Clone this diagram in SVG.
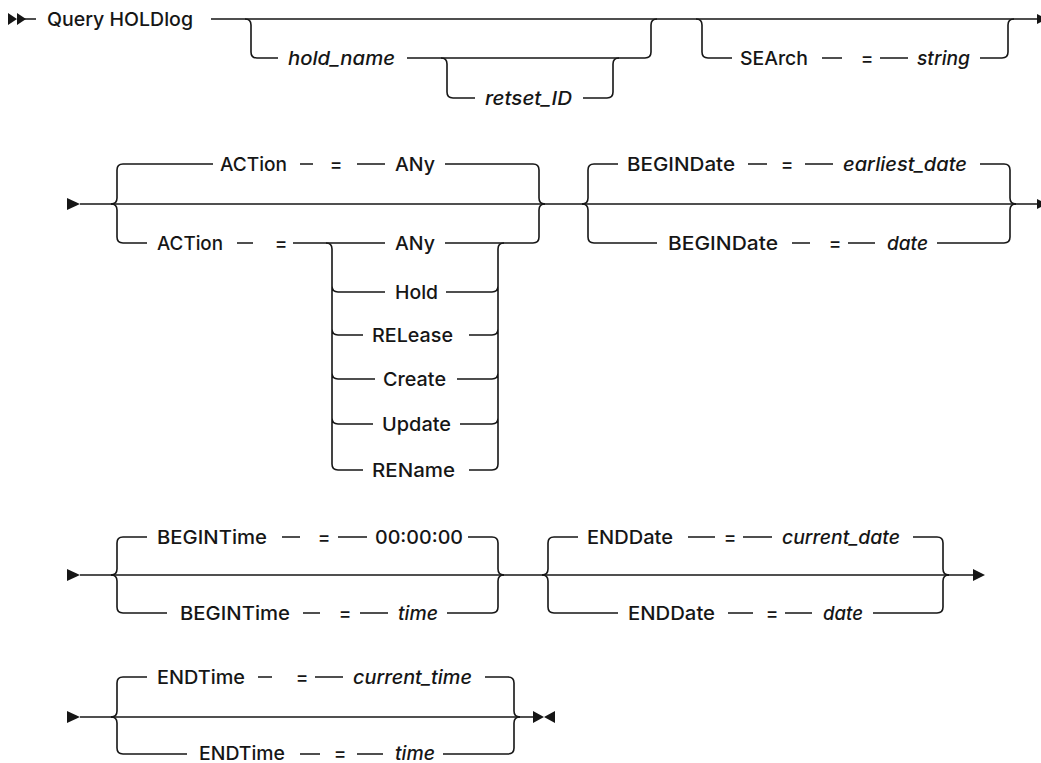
<svg xmlns="http://www.w3.org/2000/svg" width="1041" height="763" viewBox="0 0 1041 763">
<style>
.l{fill:none;stroke:#161616;stroke-width:1.6}
.m{fill:#161616;stroke:none}
.t{font-family:Inter,"Noto Sans","Liberation Sans",Arial,sans-serif;font-size:19px;font-weight:500;fill:#161616}
.i{font-style:italic}
.c{text-anchor:middle}
</style>
<rect width="1041" height="763" fill="#ffffff"/>
<g id="connectors">
<path class="m" d="M8,13 L17,19 L8,25 Z M17,13 L26,19 L17,25 Z"/>
<path class="m" d="M1037,14 L1047,19 L1037,24 Z"/>
<path class="m" d="M67,198 L80,204 L67,210 Z"/>
<path class="m" d="M1037,199 L1047,204 L1037,209 Z"/>
<path class="m" d="M67,569 L80,575 L67,581 Z"/>
<path class="m" d="M973,569 L985,575 L973,581 Z"/>
<path class="m" d="M67,711 L80,717 L67,723 Z"/>
<path class="m" d="M533,711 L544,717 L533,723 Z M555,711 L544,717 L555,723 Z"/>
<path class="l" d="M24,19 H36 M211,19 H1038"/>
<path class="l" d="M245,19 Q251,19 251,25 V52 Q251,58 257,58 H278 M407,58 H645 Q651,58 651,52 V25 Q651,19 657,19"/>
<path class="l" d="M441,58 Q447,58 447,64 V92 Q447,98 453,98 H475 M583,98 H607 Q613,98 613,92 V64 Q613,58 619,58"/>
<path class="l" d="M696,19 Q702,19 702,25 V52 Q702,58 708,58 H732 M822,58 H842 M880,58 H908 M980,58 H1002 Q1008,58 1008,52 V25 Q1008,19 1014,19"/>
<path class="l" d="M80,204 H1038"/>
<path class="l" d="M111,204 Q117,204 117,198 V170 Q117,164 123,164 H213 M300,164 H313 M357,164 H385 M445,164 H533 Q539,164 539,170 V198 Q539,204 545,204"/>
<path class="l" d="M111,204 Q117,204 117,210 V237 Q117,243 123,243 H147 M237,243 H253 M293,243 H385 M445,243 H533 Q539,243 539,237 V210 Q539,204 545,204"/>
<path class="l" d="M326,243 Q332,243 332,249 V464 Q332,470 338,470 H363 M332,286 Q332,292 338,292 H385 M332,329 Q332,335 338,335 H363 M332,373 Q332,379 338,379 H375 M332,418 Q332,424 338,424 H373"/>
<path class="l" d="M504,243 Q498,243 498,249 V464 Q498,470 492,470 H469 M498,286 Q498,292 492,292 H446 M498,329 Q498,335 492,335 H469 M498,373 Q498,379 492,379 H457 M498,418 Q498,424 492,424 H460"/>
<path class="l" d="M582,204 Q588,204 588,198 V170 Q588,164 594,164 H618 M748,164 H767 M805,164 H833 M980,164 H1004 Q1010,164 1010,170 V198 Q1010,204 1016,204"/>
<path class="l" d="M582,204 Q588,204 588,210 V237 Q588,243 594,243 H657 M792,243 H810 M848,243 H875 M937,243 H1004 Q1010,243 1010,237 V210 Q1010,204 1016,204"/>
<path class="l" d="M80,575 H974"/>
<path class="l" d="M111,575 Q117,575 117,569 V543 Q117,537 123,537 H147 M282,537 H300 M338,537 H367 M468,537 H492 Q498,537 498,543 V569 Q498,575 504,575"/>
<path class="l" d="M111,575 Q117,575 117,581 V607 Q117,613 123,613 H167 M303,613 H320 M360,613 H388 M447,613 H492 Q498,613 498,607 V581 Q498,575 504,575"/>
<path class="l" d="M542,575 Q548,575 548,569 V543 Q548,537 554,537 H578 M688,537 H715 M743,537 H772 M913,537 H937 Q943,537 943,543 V569 Q943,575 949,575"/>
<path class="l" d="M542,575 Q548,575 548,581 V607 Q548,613 554,613 H618 M728,613 H753 M785,613 H812 M873,613 H937 Q943,613 943,607 V581 Q943,575 949,575"/>
<path class="l" d="M80,717 H534"/>
<path class="l" d="M111,717 Q117,717 117,711 V683 Q117,677 123,677 H147 M258,677 H272 M315,677 H343 M485,677 H508 Q514,677 514,683 V711 Q514,717 520,717"/>
<path class="l" d="M111,717 Q117,717 117,723 V748 Q117,754 123,754 H187 M300,754 H320 M357,754 H383 M443,754 H508 Q514,754 514,748 V723 Q514,717 520,717"/>
</g>
<g id="n-query"><text class="t" x="47" y="26" textLength="146" lengthAdjust="spacingAndGlyphs">Query HOLDlog</text></g>
<g id="n-hold_name"><text class="t i" x="288" y="65" textLength="107" lengthAdjust="spacingAndGlyphs">hold_name</text></g>
<g id="n-retset_ID"><text class="t i" x="485" y="105" textLength="87" lengthAdjust="spacingAndGlyphs">retset_ID</text></g>
<g id="n-search"><text class="t" x="740" y="65" textLength="68" lengthAdjust="spacingAndGlyphs">SEArch</text><text class="t c" x="867" y="65">=</text><text class="t i" x="917" y="65" textLength="53" lengthAdjust="spacingAndGlyphs">string</text></g>
<g id="n-action-default"><text class="t" x="220" y="171" textLength="67" lengthAdjust="spacingAndGlyphs">ACTion</text><text class="t c" x="336" y="171">=</text><text class="t" x="395" y="171" textLength="40" lengthAdjust="spacingAndGlyphs">ANy</text></g>
<g id="n-action"><text class="t" x="157" y="250" textLength="66" lengthAdjust="spacingAndGlyphs">ACTion</text><text class="t c" x="281" y="250">=</text></g>
<g id="n-any"><text class="t" x="395" y="250" textLength="40" lengthAdjust="spacingAndGlyphs">ANy</text></g>
<g id="n-hold"><text class="t" x="395" y="299" textLength="43" lengthAdjust="spacingAndGlyphs">Hold</text></g>
<g id="n-release"><text class="t" x="372" y="342" textLength="81" lengthAdjust="spacingAndGlyphs">RELease</text></g>
<g id="n-create"><text class="t" x="383" y="386" textLength="63" lengthAdjust="spacingAndGlyphs">Create</text></g>
<g id="n-update"><text class="t" x="382" y="431" textLength="69" lengthAdjust="spacingAndGlyphs">Update</text></g>
<g id="n-rename"><text class="t" x="372" y="477" textLength="83" lengthAdjust="spacingAndGlyphs">REName</text></g>
<g id="n-begindate-default"><text class="t" x="627" y="171" textLength="108" lengthAdjust="spacingAndGlyphs">BEGINDate</text><text class="t c" x="787" y="171">=</text><text class="t i" x="843" y="171" textLength="124" lengthAdjust="spacingAndGlyphs">earliest_date</text></g>
<g id="n-begindate"><text class="t" x="668" y="250" textLength="110" lengthAdjust="spacingAndGlyphs">BEGINDate</text><text class="t c" x="835" y="250">=</text><text class="t i" x="887" y="250" textLength="41" lengthAdjust="spacingAndGlyphs">date</text></g>
<g id="n-begintime-default"><text class="t" x="157" y="544" textLength="110" lengthAdjust="spacingAndGlyphs">BEGINTime</text><text class="t c" x="324" y="544">=</text><text class="t" x="375" y="544" textLength="88" lengthAdjust="spacingAndGlyphs">00:00:00</text></g>
<g id="n-begintime"><text class="t" x="180" y="620" textLength="110" lengthAdjust="spacingAndGlyphs">BEGINTime</text><text class="t c" x="345" y="620">=</text><text class="t i" x="398" y="620" textLength="40" lengthAdjust="spacingAndGlyphs">time</text></g>
<g id="n-enddate-default"><text class="t" x="587" y="544" textLength="86" lengthAdjust="spacingAndGlyphs">ENDDate</text><text class="t c" x="730" y="544">=</text><text class="t i" x="782" y="544" textLength="118" lengthAdjust="spacingAndGlyphs">current_date</text></g>
<g id="n-enddate"><text class="t" x="628" y="620" textLength="87" lengthAdjust="spacingAndGlyphs">ENDDate</text><text class="t c" x="772" y="620">=</text><text class="t i" x="823" y="620" textLength="40" lengthAdjust="spacingAndGlyphs">date</text></g>
<g id="n-endtime-default"><text class="t" x="157" y="684" textLength="88" lengthAdjust="spacingAndGlyphs">ENDTime</text><text class="t c" x="302" y="684">=</text><text class="t i" x="353" y="684" textLength="119" lengthAdjust="spacingAndGlyphs">current_time</text></g>
<g id="n-endtime"><text class="t" x="199" y="760" textLength="86" lengthAdjust="spacingAndGlyphs">ENDTime</text><text class="t c" x="340" y="760">=</text><text class="t i" x="395" y="760" textLength="40" lengthAdjust="spacingAndGlyphs">time</text></g>
</svg>
